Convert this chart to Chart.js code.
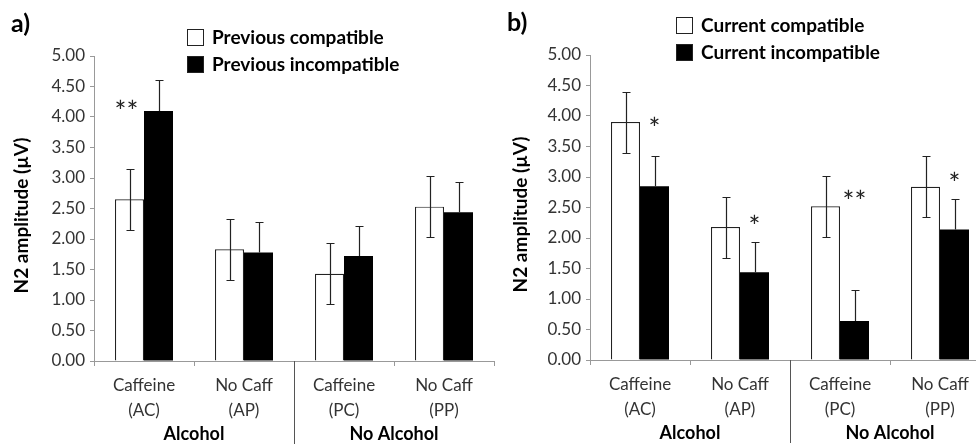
<!DOCTYPE html>
<html>
<head>
<meta charset="utf-8">
<script src="https://cdn.jsdelivr.net/npm/chart.js@4.4.1/dist/chart.umd.min.js"></script>
<style>
html, body { margin: 0; padding: 0; background: #fff; overflow: hidden; width: 976px; height: 444px; }
canvas { position: absolute; }
#chartA { left: 0; top: 0; }
#chartB { left: 496px; top: -1px; }
</style>
</head>
<body>
<canvas id="chartA" width="500" height="444"></canvas>
<canvas id="chartB" width="500" height="444"></canvas>
<script>
// categories and group labels (shared by both panels)
const categories = [['Caffeine', '(AC)'], ['No Caff', '(AP)'], ['Caffeine', '(PC)'], ['No Caff', '(PP)']];
const groups = ['Alcohol', 'No Alcohol'];
const yTicks = [0, 0.5, 1, 1.5, 2, 2.5, 3, 3.5, 4, 4.5, 5];

// panel a)
const prevCompat = [2.65, 1.83, 1.43, 2.53];
const prevCompatErr = [0.50, 0.50, 0.50, 0.50];
const prevIncompat = [4.10, 1.78, 1.72, 2.44];
const prevIncompatErr = [0.50, 0.50, 0.50, 0.50];
const starsA = ['**', '', '', ''];
const starsAPos = [4.20, null, null, null];

// panel b)
const currCompat = [3.90, 2.18, 2.52, 2.84];
const currCompatErr = [0.50, 0.50, 0.50, 0.50];
const currIncompat = [2.85, 1.44, 0.64, 2.14];
const currIncompatErr = [0.50, 0.50, 0.50, 0.50];
const starsB = ['*', '*', '**', '*'];
const starsBPos = [3.90, 2.30, 2.70, 3.00];

const FONT = 'Lato, "Open Sans", sans-serif';

// draws error bars, stars, legend, group labels and the divider
const extras = {
    id: 'extras',
    afterDatasetsDraw(chart, args, opts) {
        const ctx = chart.ctx;
        const ys = chart.scales.y;
        const xs = chart.scales.x;
        const area = chart.chartArea;
        ctx.save();

        // error bars (on the black bars only the upper half shows)
        chart.data.datasets.forEach((ds, di) => {
            const meta = chart.getDatasetMeta(di);
            meta.data.forEach((bar, i) => {
                const v = ds.data[i], e = ds.errors[i];
                const x = Math.round(bar.x) + 0.5;
                const top = Math.round(ys.getPixelForValue(v + e)) + 0.5;
                const bot = Math.round(ys.getPixelForValue(v - e)) + 0.5;
                ctx.strokeStyle = '#222';
                ctx.lineWidth = 1.2;
                ctx.beginPath();
                ctx.moveTo(x - 4, top); ctx.lineTo(x + 4, top);
                ctx.moveTo(x, top);
                if (di === 1) {
                    ctx.lineTo(x, bar.y);
                } else {
                    ctx.lineTo(x, bot);
                    ctx.moveTo(x - 4, bot); ctx.lineTo(x + 4, bot);
                }
                ctx.stroke();
            });
        });

        // significance stars
        const starMeta = chart.getDatasetMeta(opts.starSet);
        ctx.fillStyle = '#222';
        ctx.font = '28px ' + FONT;
        ctx.textAlign = 'center';
        ctx.textBaseline = 'middle';
        opts.stars.forEach((s, i) => {
            if (!s) return;
            ctx.fillText(s, starMeta.data[i].x + opts.starShift, ys.getPixelForValue(opts.starPos[i]) + 8);
        });

        // divider between the two groups
        const mid = Math.round((xs.getPixelForValue(1) + xs.getPixelForValue(2)) / 2) + 0.5;
        ctx.strokeStyle = '#555';
        ctx.lineWidth = 1;
        ctx.beginPath();
        ctx.moveTo(mid, area.bottom);
        ctx.lineTo(mid, chart.height);
        ctx.stroke();

        // group labels
        ctx.fillStyle = '#000';
        ctx.font = 'bold 18px ' + FONT;
        groups.forEach((g, gi) => {
            const cx = (xs.getPixelForValue(gi * 2) + xs.getPixelForValue(gi * 2 + 1)) / 2;
            ctx.fillText(g, cx, area.bottom + 73);
        });

        // panel letter
        ctx.textAlign = 'left';
        ctx.font = 'bold 25px ' + FONT;
        ctx.fillText(opts.letter, 11, 24);

        // legend
        ctx.font = 'bold 19px ' + FONT;
        chart.data.datasets.forEach((ds, di) => {
            const cy = opts.legendY + di * 27;
            ctx.fillStyle = ds.backgroundColor;
            ctx.fillRect(opts.legendX, cy - 8, 17, 17);
            ctx.strokeStyle = '#222';
            ctx.lineWidth = 1;
            ctx.strokeRect(opts.legendX + 0.5, cy - 7.5, 16, 16);
            ctx.fillStyle = '#000';
            ctx.fillText(ds.label, opts.legendX + 25, cy + 1);
        });

        // y axis title
        ctx.translate(opts.titleX, (area.top + area.bottom) / 2 + 7);
        ctx.rotate(-Math.PI / 2);
        ctx.textAlign = 'center';
        ctx.font = 'bold 19px ' + FONT;
        ctx.fillText('N2 amplitude (µV)', 0, 0);
        ctx.restore();
    }
};

function makeChart(id, sets, panel) {
    return new Chart(document.getElementById(id), {
        type: 'bar',
        data: {
            labels: categories,
            datasets: sets.map((s, i) => ({
                label: s.label,
                data: s.data,
                errors: s.err,
                backgroundColor: i === 0 ? '#ffffff' : '#000000',
                borderColor: '#222',
                borderWidth: i === 0 ? 1.2 : 0,
                barPercentage: 1.0,
                categoryPercentage: 0.58
            }))
        },
        options: {
            responsive: false,
            animation: false,
            layout: { padding: { top: 56, right: 6, left: 0, bottom: 0 } },
            plugins: {
                legend: { display: false },
                tooltip: { enabled: false },
                extras: panel
            },
            scales: {
                x: {
                    afterFit: s => { s.height = 83; },
                    grid: { drawOnChartArea: false, drawTicks: true, tickLength: 5, color: '#999' },
                    border: { color: '#999' },
                    ticks: {
                        color: '#333', autoSkip: false, maxRotation: 0, padding: 7,
                        font: { family: FONT, size: 17, lineHeight: 1.47 }
                    }
                },
                y: {
                    min: 0, max: 5,
                    afterFit: s => { s.width = 94; },
                    afterBuildTicks: s => { s.ticks = yTicks.map(v => ({ value: v })); },
                    grid: { drawOnChartArea: false, drawTicks: true, tickLength: 4, color: '#999' },
                    border: { color: '#999' },
                    ticks: {
                        color: '#333', padding: 5,
                        font: { family: FONT, size: 17 },
                        callback: v => v.toFixed(2)
                    }
                }
            }
        },
        plugins: [extras]
    });
}

makeChart('chartA', [
    { label: 'Previous compatible', data: prevCompat, err: prevCompatErr },
    { label: 'Previous incompatible', data: prevIncompat, err: prevIncompatErr }
], { letter: 'a)', legendX: 187, legendY: 37, titleX: 22, stars: starsA, starPos: starsAPos, starSet: 0, starShift: -3 });

makeChart('chartB', [
    { label: 'Current compatible', data: currCompat, err: currCompatErr },
    { label: 'Current incompatible', data: currIncompat, err: currIncompatErr }
], { letter: 'b)', legendX: 180, legendY: 26, titleX: 25, stars: starsB, starPos: starsBPos, starSet: 1, starShift: 0 });
</script>
</body>
</html>
